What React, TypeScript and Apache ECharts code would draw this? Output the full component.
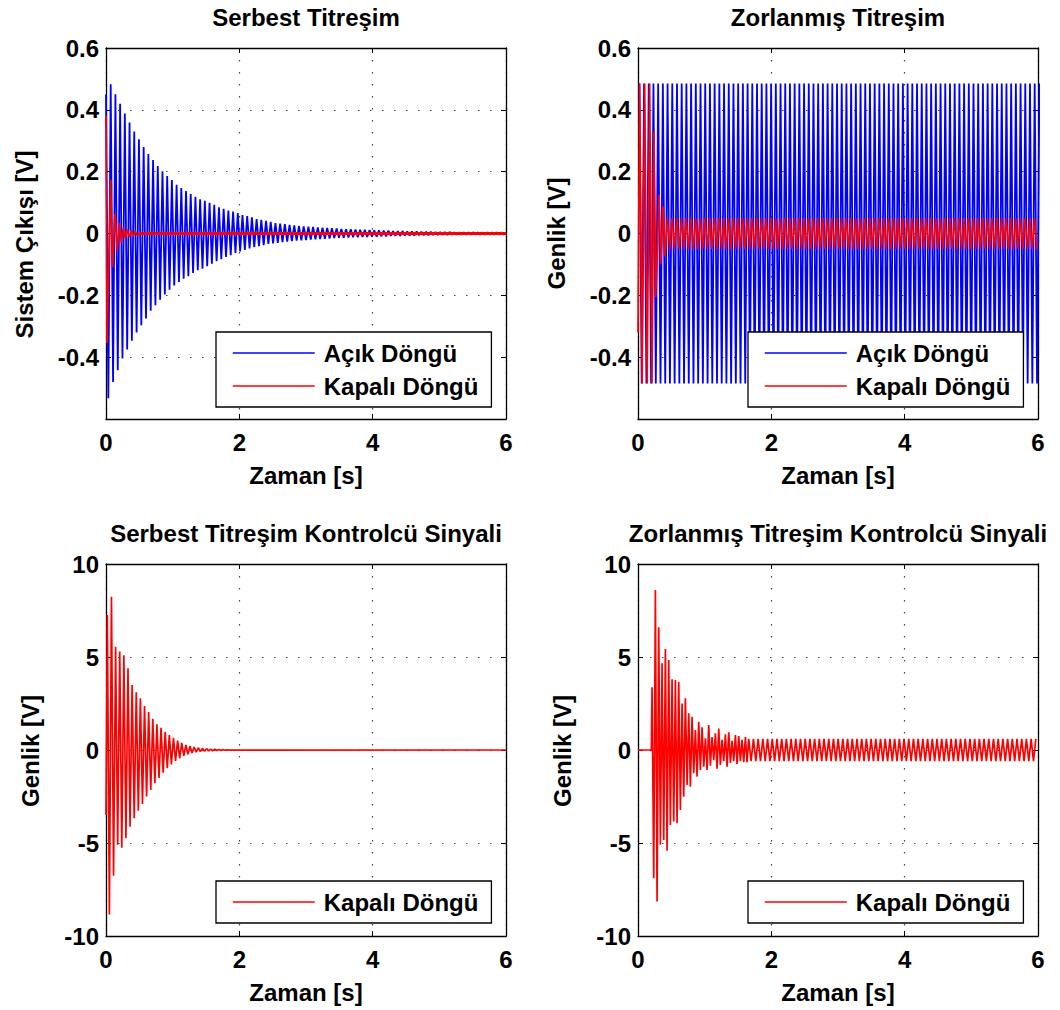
import React, { useEffect, useRef } from "react";
import * as echarts from "echarts";

const FONT = "'Liberation Sans', Arial, Helvetica, sans-serif";
const BLUE = "#0000ff";
const RED = "#ff0000";

// ---- labels ----
const panelTitles = [
  "Serbest Titreşim",
  "Zorlanmış Titreşim",
  "Serbest Titreşim Kontrolcü Sinyali",
  "Zorlanmış Titreşim Kontrolcü Sinyali",
];
const yNames = ["Sistem Çıkışı [V]", "Genlik [V]", "Genlik [V]", "Genlik [V]"];
const xName = "Zaman [s]";
const OPEN = "Açık Döngü";
const CLOSED = "Kapalı Döngü";

// ---- axes ----
const timeTicks = [0, 2, 4, 6];
const voltTicks = [-0.6, -0.4, -0.2, 0, 0.2, 0.4, 0.6];
const ctrlTicks = [-10, -5, 0, 5, 10];

// ---- free vibration, open loop: successive peak / trough values per cycle ----
const FREE_OPEN_HALF = 0.0353;
const freeOpenMax = [
  0.45, 0.483, 0.45, 0.42, 0.388, 0.359, 0.33, 0.305, 0.28, 0.257,
  0.238, 0.218, 0.201, 0.186, 0.173, 0.158, 0.147, 0.137, 0.128, 0.119,
  0.111, 0.106, 0.099, 0.093, 0.085, 0.08, 0.074, 0.071, 0.066, 0.06,
  0.056, 0.052, 0.047, 0.044, 0.041, 0.038, 0.034, 0.032, 0.03, 0.028,
  0.026, 0.024, 0.023, 0.022, 0.021, 0.02, 0.019, 0.018, 0.017, 0.016,
  0.015, 0.014, 0.014, 0.013, 0.012, 0.012, 0.011, 0.01, 0.01, 0.009,
  0.009, 0.008, 0.008, 0.008, 0.007, 0.007, 0.007, 0.006, 0.006, 0.006,
  0.005, 0.005, 0.005, 0.005, 0.004, 0.004, 0.004, 0.004, 0.004, 0.003,
  0.003, 0.003, 0.003, 0.003, 0.003, 0.003,
];
const freeOpenMin = [
  -0.533, -0.48, -0.442, -0.404, -0.375, -0.347, -0.32, -0.297, -0.275, -0.25,
  -0.232, -0.214, -0.197, -0.182, -0.168, -0.157, -0.146, -0.138, -0.128, -0.119,
  -0.114, -0.106, -0.098, -0.09, -0.083, -0.076, -0.07, -0.063, -0.058, -0.053,
  -0.048, -0.044, -0.041, -0.038, -0.034, -0.032, -0.03, -0.028, -0.026, -0.025,
  -0.023, -0.022, -0.021, -0.02, -0.019, -0.018, -0.017, -0.016, -0.015, -0.014,
  -0.014, -0.013, -0.012, -0.012, -0.011, -0.011, -0.01, -0.01, -0.009, -0.009,
  -0.008, -0.008, -0.008, -0.007, -0.007, -0.007, -0.006, -0.006, -0.006, -0.005,
  -0.005, -0.005, -0.005, -0.004, -0.004, -0.004, -0.004, -0.004, -0.003, -0.003,
  -0.003, -0.003, -0.003, -0.003, -0.003,
];

// ---- free vibration, closed loop: turning points (time, value) ----
const freeClosedT = [0, 0.015, 0.07, 0.095, 0.135, 0.17, 0.2, 0.23, 0.26, 0.29, 0.32, 0.35, 0.38, 0.41, 0.44, 0.47, 0.5, 6];
const freeClosedY = [0.38, -0.355, 0.174, -0.109, 0.063, -0.057, 0.034, -0.03, 0.02, -0.016, 0.013, -0.012, 0.01, -0.009, 0.008, -0.007, 0, 0];

// ---- forced vibration, open loop: peaks / troughs per cycle ----
const FORCED_HALF = 0.0353;
const FORCED_OPEN_START = 0.02;
const forcedOpenMax = [
  0.485, 0.485, 0.485, 0.485, 0.485, 0.485, 0.485, 0.485, 0.485, 0.485,
  0.485, 0.485, 0.485, 0.485, 0.485, 0.485, 0.485, 0.485, 0.485, 0.485,
  0.485, 0.485, 0.485, 0.485, 0.485, 0.485, 0.485, 0.485, 0.485, 0.485,
  0.485, 0.485, 0.485, 0.485, 0.485, 0.485, 0.485, 0.485, 0.485, 0.485,
  0.485, 0.485, 0.485, 0.485, 0.485, 0.485, 0.485, 0.485, 0.485, 0.485,
  0.485, 0.485, 0.485, 0.485, 0.485, 0.485, 0.485, 0.485, 0.485, 0.485,
  0.485, 0.485, 0.485, 0.485, 0.485, 0.485, 0.485, 0.485, 0.485, 0.485,
  0.485, 0.485, 0.485, 0.485, 0.485, 0.485, 0.485, 0.485, 0.485, 0.485,
  0.485, 0.485, 0.485, 0.485, 0.485, 0.485,
];
const forcedOpenMin = [
  -0.485, -0.485, -0.485, -0.485, -0.485, -0.485, -0.485, -0.485, -0.485, -0.485,
  -0.485, -0.485, -0.485, -0.485, -0.485, -0.485, -0.485, -0.485, -0.485, -0.485,
  -0.485, -0.485, -0.485, -0.485, -0.485, -0.485, -0.485, -0.485, -0.485, -0.485,
  -0.485, -0.485, -0.485, -0.485, -0.485, -0.485, -0.485, -0.485, -0.485, -0.485,
  -0.485, -0.485, -0.485, -0.485, -0.485, -0.485, -0.485, -0.485, -0.485, -0.485,
  -0.485, -0.485, -0.485, -0.485, -0.485, -0.485, -0.485, -0.485, -0.485, -0.485,
  -0.485, -0.485, -0.485, -0.485, -0.485, -0.485, -0.485, -0.485, -0.485, -0.485,
  -0.485, -0.485, -0.485, -0.485, -0.485, -0.485, -0.485, -0.485, -0.485, -0.485,
  -0.485, -0.485, -0.485, -0.485, -0.485,
];

// ---- forced vibration, closed loop: start-up turning points, then steady peaks ----
const forcedClosedT = [0, 0.025, 0.0625, 0.1, 0.1375, 0.175, 0.21, 0.24, 0.266, 0.316, 0.341, 0.376, 0.406];
const forcedClosedY = [-0.32, 0.485, -0.485, 0.485, -0.485, 0.485, -0.485, 0.33, -0.205, 0.125, -0.098, 0.087, -0.074];
const FORCED_CLOSED_STEADY_START = 0.441;
const forcedClosedMax = [
  0.05, 0.05, 0.05, 0.05, 0.05, 0.05, 0.05, 0.05, 0.05, 0.05,
  0.05, 0.05, 0.05, 0.05, 0.05, 0.05, 0.05, 0.05, 0.05, 0.05,
  0.05, 0.05, 0.05, 0.05, 0.05, 0.05, 0.05, 0.05, 0.05, 0.05,
  0.05, 0.05, 0.05, 0.05, 0.05, 0.05, 0.05, 0.05, 0.05, 0.05,
  0.05, 0.05, 0.05, 0.05, 0.05, 0.05, 0.05, 0.05, 0.05, 0.05,
  0.05, 0.05, 0.05, 0.05, 0.05, 0.05, 0.05, 0.05, 0.05, 0.05,
  0.05, 0.05, 0.05, 0.05, 0.05, 0.05, 0.05, 0.05, 0.05, 0.05,
  0.05, 0.05, 0.05, 0.05, 0.05, 0.05, 0.05, 0.05, 0.05,
];
const forcedClosedMin = [
  -0.05, -0.05, -0.05, -0.05, -0.05, -0.05, -0.05, -0.05, -0.05, -0.05,
  -0.05, -0.05, -0.05, -0.05, -0.05, -0.05, -0.05, -0.05, -0.05, -0.05,
  -0.05, -0.05, -0.05, -0.05, -0.05, -0.05, -0.05, -0.05, -0.05, -0.05,
  -0.05, -0.05, -0.05, -0.05, -0.05, -0.05, -0.05, -0.05, -0.05, -0.05,
  -0.05, -0.05, -0.05, -0.05, -0.05, -0.05, -0.05, -0.05, -0.05, -0.05,
  -0.05, -0.05, -0.05, -0.05, -0.05, -0.05, -0.05, -0.05, -0.05, -0.05,
  -0.05, -0.05, -0.05, -0.05, -0.05, -0.05, -0.05, -0.05, -0.05, -0.05,
  -0.05, -0.05, -0.05, -0.05, -0.05, -0.05, -0.05, -0.05, -0.05,
];

// ---- free vibration controller signal ----
const FREE_CTRL_START_VALUE = -3.5;
const FREE_CTRL_FIRST_PEAK = 0.02;
const FREE_CTRL_HALF = 0.031;
const freeCtrlMax = [
  7.26, 8.24, 5.55, 5.3, 5.1, 4.39, 3.49, 3.1, 2.78, 2.37,
  2.04, 1.68, 1.38, 1.2, 0.98, 0.8, 0.66, 0.5, 0.38, 0.27,
  0.21, 0.16, 0.12, 0.09, 0.07, 0.05, 0.04, 0.03, 0.02, 0.015,
];
const freeCtrlMin = [
  -8.84, -6.76, -5.1, -5.25, -4.75, -4.12, -3.67, -3.26, -2.9, -2.5,
  -2.15, -1.79, -1.5, -1.22, -0.98, -0.77, -0.59, -0.45, -0.32, -0.23,
  -0.16, -0.12, -0.09, -0.07, -0.05, -0.04, -0.03, -0.02, -0.015, -0.01,
];
const freeCtrlTail = [[6, 0]];

// ---- forced vibration controller signal ----
const forcedCtrlLeadT = [0, 0.2];
const forcedCtrlLeadY = [0, 0];
const FORCED_CTRL_TRANSIENT_START = 0.211;
const FORCED_CTRL_TRANSIENT_HALF = 0.025;
const forcedCtrlTransient = [
  3.37, -6.9, 8.6, -8.15, 6.6, -5.1, 4.66, -4.84, 5.43, -5.41,
  4.84, -4.03, 3.8, -3.85, 3.76, -3.94, 3.67, -3.23, 2.5, -2.51,
  2.78, -1.88, 1.97, -1.97, 1.79, -1.25, 1.07, -1.43, 1.52, -1.07,
  1.22, -0.9, 0.63, -1.07, 1.34, -0.85, 0.7, -0.55, 0.9, -1.0,
  1.16, -0.8, 0.55, -0.6, 0.85, -0.9, 0.95, -0.7, 0.5, -0.6,
  0.8, -0.75, 0.75, -0.6, 0.55, -0.65, 0.7, -0.65,
];
const FORCED_CTRL_STEADY_START = 1.661;
const forcedCtrlMax = [
  0.6, 0.6, 0.6, 0.6, 0.6, 0.6, 0.6, 0.6, 0.6, 0.6,
  0.6, 0.6, 0.6, 0.6, 0.6, 0.6, 0.6, 0.6, 0.6, 0.6,
  0.6, 0.6, 0.6, 0.6, 0.6, 0.6, 0.6, 0.6, 0.6, 0.6,
  0.6, 0.6, 0.6, 0.6, 0.6, 0.6, 0.6, 0.6, 0.6, 0.6,
  0.6, 0.6, 0.6, 0.6, 0.6, 0.6, 0.6, 0.6, 0.6, 0.6,
  0.6, 0.6, 0.6, 0.6, 0.6, 0.6, 0.6, 0.6, 0.6, 0.6,
  0.6, 0.6,
];
const forcedCtrlMin = [
  -0.6, -0.6, -0.6, -0.6, -0.6, -0.6, -0.6, -0.6, -0.6, -0.6,
  -0.6, -0.6, -0.6, -0.6, -0.6, -0.6, -0.6, -0.6, -0.6, -0.6,
  -0.6, -0.6, -0.6, -0.6, -0.6, -0.6, -0.6, -0.6, -0.6, -0.6,
  -0.6, -0.6, -0.6, -0.6, -0.6, -0.6, -0.6, -0.6, -0.6, -0.6,
  -0.6, -0.6, -0.6, -0.6, -0.6, -0.6, -0.6, -0.6, -0.6, -0.6,
  -0.6, -0.6, -0.6, -0.6, -0.6, -0.6, -0.6, -0.6, -0.6, -0.6,
  -0.6,
];

// ---- helpers turning the peak lists into (time, value) points ----
type Pt = [number, number];
function alternate(t0: number, half: number, maxima: number[], minima: number[]): Pt[] {
  const pts: Pt[] = [];
  for (let k = 0; k < maxima.length; k++) {
    pts.push([t0 + 2 * k * half, maxima[k]]);
    if (k < minima.length) pts.push([t0 + (2 * k + 1) * half, minima[k]]);
  }
  return pts;
}
function sequence(t0: number, half: number, values: number[]): Pt[] {
  return values.map((v, i) => [t0 + i * half, v] as Pt);
}
function pairs(ts: number[], ys: number[]): Pt[] {
  return ts.map((t, i) => [t, ys[i]] as Pt);
}

// ---- layout ----
const panels = [
  { left: 106, top: 48, width: 400, height: 371, ticks: voltTicks, nameGap: 70, namePad: [0, 22, 0, 0], legendTop: 332, legendLeft: 216 },
  { left: 638, top: 48, width: 400, height: 371, ticks: voltTicks, nameGap: 70, namePad: [0, 0, 0, 0], legendTop: 332, legendLeft: 748 },
  { left: 106, top: 564, width: 400, height: 372, ticks: ctrlTicks, nameGap: 64, namePad: [0, 2, 0, 0], legendTop: 881, legendLeft: 216 },
  { left: 638, top: 564, width: 400, height: 372, ticks: ctrlTicks, nameGap: 64, namePad: [0, 2, 0, 0], legendTop: 881, legendLeft: 748 },
];

function fmt(v: number): string {
  const r = Math.round(v * 10) / 10;
  return String(r);
}

function buildOption() {
  const grid: any[] = [];
  const xAxis: any[] = [];
  const yAxis: any[] = [];
  const legend: any[] = [];
  const graphic: any[] = [];

  const axisLine = { show: true, onZero: false, lineStyle: { color: "#000", width: 1.3 } };
  const tick = { show: true, inside: true, length: 5, lineStyle: { color: "#000", width: 1 } };
  const dotted = { show: true, lineStyle: { color: "#444", width: 1.2, type: [1.5, 10.5] } };
  const labelFont = { fontFamily: FONT, fontSize: 24, fontWeight: "bold", color: "#000" };

  panels.forEach((p, i) => {
    grid.push({ left: p.left, top: p.top, width: p.width, height: p.height, containLabel: false });
    const yMin = p.ticks[0];
    const yMax = p.ticks[p.ticks.length - 1];
    const yStep = p.ticks[1] - p.ticks[0];
    const hideBottom = p.ticks === voltTicks;

    xAxis.push({
      type: "value", gridIndex: i, position: "bottom",
      min: timeTicks[0], max: timeTicks[timeTicks.length - 1], interval: timeTicks[1] - timeTicks[0],
      axisLine, axisTick: tick,
      axisLabel: { ...labelFont, margin: 11 },
      splitLine: dotted,
      name: xName, nameLocation: "middle", nameGap: 44,
      nameTextStyle: { ...labelFont },
    });
    xAxis.push({
      type: "value", gridIndex: i, position: "top",
      min: timeTicks[0], max: timeTicks[timeTicks.length - 1], interval: timeTicks[1] - timeTicks[0],
      axisLine, axisTick: tick, axisLabel: { show: false }, splitLine: { show: false },
    });
    yAxis.push({
      type: "value", gridIndex: i, position: "left",
      min: yMin, max: yMax, interval: yStep,
      axisLine, axisTick: tick,
      axisLabel: {
        ...labelFont, margin: 7,
        formatter: (v: number) => (hideBottom && Math.abs(v - yMin) < 1e-9 ? "" : fmt(v)),
      },
      splitLine: dotted,
      name: yNames[i], nameLocation: "middle", nameGap: p.nameGap,
      nameTextStyle: { ...labelFont, padding: p.namePad },
    });
    yAxis.push({
      type: "value", gridIndex: i, position: "right",
      min: yMin, max: yMax, interval: yStep,
      axisLine, axisTick: tick, axisLabel: { show: false }, splitLine: { show: false },
    });

    const names = i < 2 ? [OPEN, CLOSED] : [CLOSED];
    legend.push({
      left: p.legendLeft, top: p.legendTop, orient: "vertical",
      selectedMode: false,
      data: names.map((n) => ({
        name: n,
        itemStyle: { color: "transparent", borderColor: "transparent", borderWidth: 0, opacity: 0 },
        lineStyle: { color: n === OPEN ? BLUE : RED, width: 1.5, opacity: 1 },
      })),
      itemWidth: 82, itemHeight: 24, itemGap: 9,
      padding: [9, 13, 9, 16],
      borderColor: "#000", borderWidth: 1.3, borderRadius: 0,
      backgroundColor: "#fff",
      textStyle: { ...labelFont, lineHeight: 24, padding: [0, 0, 0, 4] },
    });

    graphic.push({
      type: "text",
      x: p.left + p.width / 2,
      y: p.top - 43,
      silent: true,
      style: {
        text: panelTitles[i],
        font: `bold 24px ${FONT}`,
        fill: "#000",
        align: "center",
        verticalAlign: "top",
        textAlign: "center",
        textVerticalAlign: "top",
      },
    });
  });

  const line = (name: string, color: string, width: number, idx: number, data: Pt[]) => ({
    type: "line", name, data,
    xAxisIndex: 2 * idx, yAxisIndex: 2 * idx,
    symbol: "none", showSymbol: false, clip: true, silent: true,
    lineStyle: { color, width },
    itemStyle: { color },
  });

  const freeClosed = pairs(freeClosedT, freeClosedY);
  const forcedClosed = pairs(forcedClosedT, forcedClosedY).concat(
    alternate(FORCED_CLOSED_STEADY_START, FORCED_HALF, forcedClosedMax, forcedClosedMin)
  );
  const freeCtrl: Pt[] = ([[0, FREE_CTRL_START_VALUE]] as Pt[])
    .concat(alternate(FREE_CTRL_FIRST_PEAK, FREE_CTRL_HALF, freeCtrlMax, freeCtrlMin))
    .concat(freeCtrlTail as Pt[]);
  const forcedCtrl = pairs(forcedCtrlLeadT, forcedCtrlLeadY)
    .concat(sequence(FORCED_CTRL_TRANSIENT_START, FORCED_CTRL_TRANSIENT_HALF, forcedCtrlTransient))
    .concat(alternate(FORCED_CTRL_STEADY_START, FORCED_HALF, forcedCtrlMax, forcedCtrlMin));

  const series = [
    line(OPEN, BLUE, 1.8, 0, alternate(0, FREE_OPEN_HALF, freeOpenMax, freeOpenMin)),
    line(CLOSED, RED, 1.7, 0, freeClosed),
    // settled residual of the closed-loop output, drawn as a heavier band
    line(CLOSED, RED, 3.2, 0, freeClosed.slice(-2)),
    line(OPEN, BLUE, 1.8, 1, alternate(FORCED_OPEN_START, FORCED_HALF, forcedOpenMax, forcedOpenMin)),
    line(CLOSED, RED, 1.7, 1, forcedClosed),
    line(CLOSED, RED, 1.7, 2, freeCtrl),
    line(CLOSED, RED, 1.7, 3, forcedCtrl),
  ];

  return {
    animation: false,
    backgroundColor: "#fff",
    textStyle: { fontFamily: FONT },
    grid, xAxis, yAxis, legend, graphic, series,
  };
}

export default function App() {
  const ref = useRef<HTMLDivElement>(null);
  useEffect(() => {
    if (!ref.current) return;
    const chart = echarts.init(ref.current, undefined, { renderer: "svg" });
    chart.setOption(buildOption() as any);
    return () => chart.dispose();
  }, []);
  return (
    <div
      ref={ref}
      style={{ position: "fixed", left: 0, top: 0, width: 1060, height: 1010, background: "#fff" }}
    />
  );
}
